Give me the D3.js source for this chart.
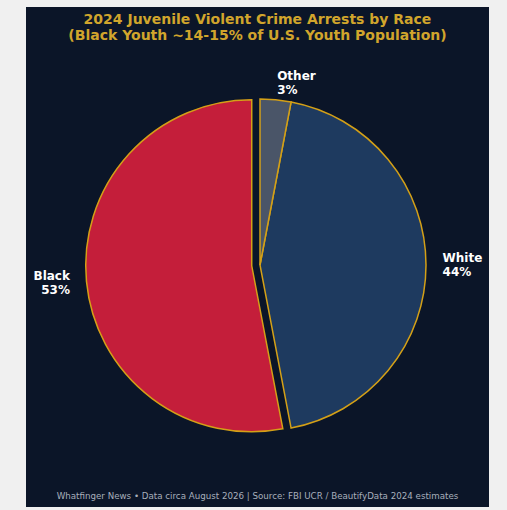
<!DOCTYPE html>
<html lang="en">
<head>
<meta charset="utf-8">
<title>Juvenile Violent Crime Arrests by Race</title>
<style>
    html, body { margin: 0; padding: 0; background: #f0f0f0; }
    svg { display: block; }
    text { font-family: "DejaVu Sans", sans-serif; }
</style>
</head>
<body>
<div id="chart"></div>
<script src="https://d3js.org/d3.v7.min.js"></script>
<script>
// data
var races = ["Black", "White", "Other"];
var shares = [53, 44, 3];
var colors = ["#c41e3a", "#1e3a5f", "#4a5568"];
var explode = [0.05, 0, 0];

var W = 507, H = 510;
var panel = {x: 26, y: 7, w: 463, h: 500};
var cx = 260, cy = 265, r = 166;

var svg = d3.select("#chart").append("svg").attr("width", W).attr("height", H);

svg.append("rect")
    .attr("x", panel.x).attr("y", panel.y)
    .attr("width", panel.w).attr("height", panel.h)
    .attr("fill", "#0b1528");

// title
var title = svg.append("text")
    .attr("text-anchor", "middle")
    .attr("fill", "#d1a52c")
    .attr("font-size", "14px")
    .attr("font-weight", "bold");
title.append("tspan").attr("x", panel.x + panel.w / 2).attr("y", 24).text("2024 Juvenile Violent Crime Arrests by Race");
title.append("tspan").attr("x", panel.x + panel.w / 2).attr("y", 40).text("(Black Youth ~14-15% of U.S. Youth Population)");

// pie, counterclockwise from 12 o'clock like matplotlib startangle=90
var pie = d3.pie().sort(null).startAngle(0).endAngle(-2 * Math.PI);
var arcs = pie(shares);
var arc = d3.arc().innerRadius(0).outerRadius(r);

var g = svg.append("g").attr("transform", "translate(" + cx + "," + cy + ")");

arcs.forEach(function(d, i) {
    var mid = (d.startAngle + d.endAngle) / 2;
    var off = explode[i] * r;
    var ox = Math.sin(mid) * off, oy = -Math.cos(mid) * off;

    g.append("path")
        .attr("d", arc(d))
        .attr("transform", "translate(" + ox + "," + oy + ")")
        .attr("fill", colors[i])
        .attr("stroke", "#d4a017")
        .attr("stroke-width", 1.5)
        .attr("stroke-linejoin", "miter");

    // labels at 1.1 r, like matplotlib labeldistance
    var lx = ox + Math.sin(mid) * r * 1.1;
    var ly = oy - Math.cos(mid) * r * 1.1;
    var anchor = lx > 0 ? "start" : "end";
    var t = g.append("text")
        .attr("text-anchor", anchor)
        .attr("fill", "#ffffff")
        .attr("font-size", "12px")
        .attr("font-weight", "bold");
    t.append("tspan").attr("x", lx).attr("y", ly - 3).text(races[i]);
    t.append("tspan").attr("x", lx).attr("y", ly + 11).text(shares[i] + "%");
});

// footer
svg.append("text")
    .attr("x", panel.x + panel.w / 2).attr("y", 499)
    .attr("text-anchor", "middle")
    .attr("fill", "#a8afbb")
    .attr("font-size", "8.7px")
    .text("Whatfinger News \u2022 Data circa August 2026 | Source: FBI UCR / BeautifyData 2024 estimates");
</script>
</body>
</html>
